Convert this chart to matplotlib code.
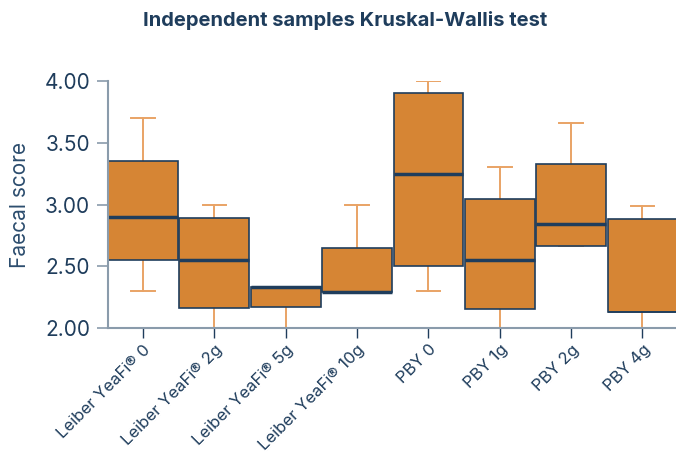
import matplotlib.pyplot as plt

plt.rcParams["font.family"] = ["Inter", "DejaVu Sans"]

NAVY = "#1f3d5c"
ORANGE = "#d68534"
WHISKER = "#e9a365"
SPINE = "#8a9bab"

groups = ["Leiber YeaFi® 0", "Leiber YeaFi® 2g", "Leiber YeaFi® 5g", "Leiber YeaFi® 10g",
          "PBY 0", "PBY 1g", "PBY 2g", "PBY 4g"]
whisker_low = [2.30, 2.00, 2.00, 2.29, 2.30, 2.00, 2.66, 2.00]
q1 = [2.55, 2.16, 2.17, 2.29, 2.50, 2.15, 2.66, 2.13]
median = [2.90, 2.55, 2.33, 2.29, 3.25, 2.55, 2.84, 2.13]
q3 = [3.35, 2.89, 2.33, 2.645, 3.90, 3.045, 3.33, 2.885]
whisker_high = [3.70, 3.00, 2.33, 3.00, 4.00, 3.30, 3.66, 2.99]

stats = []
for name, lo, a, m, b, hi in zip(groups, whisker_low, q1, median, q3, whisker_high):
    stats.append({"label": name, "whislo": lo, "q1": a, "med": m, "q3": b, "whishi": hi, "fliers": []})

fig = plt.figure(figsize=(6.76, 4.54), dpi=100)
ax = fig.add_axes([0.16, 0.2775, 0.84, 0.5441])

parts = ax.bxp(
    stats,
    positions=range(len(groups)),
    widths=0.98,
    patch_artist=True,
    showfliers=False,
    boxprops=dict(facecolor=ORANGE, edgecolor=NAVY, linewidth=1.2, zorder=3),
    medianprops=dict(color=NAVY, linewidth=2.5, zorder=4),
    whiskerprops=dict(color=WHISKER, linewidth=1.4, zorder=1),
    capprops=dict(color=WHISKER, linewidth=1.4, zorder=1),
    capwidths=0.33,
)
# last group: median sits on the lower edge, drawn no heavier than the box edge
parts["medians"][-1].set_linewidth(1.2)

ax.set_xlim(-0.49, 7.47)
ax.set_ylim(2.0, 4.0)
ax.set_yticks([2.0, 2.5, 3.0, 3.5, 4.0])
ax.set_yticklabels(["2.00", "2.50", "3.00", "3.50", "4.00"], fontsize=15, color=NAVY)
ax.set_xticks(range(len(groups)))
ax.set_xticklabels(groups, rotation=45, ha="right", rotation_mode="anchor",
                   fontsize=12, color=NAVY)
ax.tick_params(axis="y", length=8, color=SPINE, width=1.2, pad=5)
ax.tick_params(axis="x", length=7, color=NAVY, width=1, pad=3)
ax.set_ylabel("Faecal score", fontsize=15, color="#2c4d6e", labelpad=10)

for side in ["top", "right"]:
    ax.spines[side].set_visible(False)
for side in ["left", "bottom"]:
    ax.spines[side].set_color(SPINE)
    ax.spines[side].set_linewidth(1.5)
    ax.spines[side].set_zorder(5)

fig.text(0.51, 0.955, "Independent samples Kruskal-Wallis test", ha="center", va="center",
         fontsize=14.5, fontweight="bold", color=NAVY)

fig.savefig("out.png", dpi=100)
